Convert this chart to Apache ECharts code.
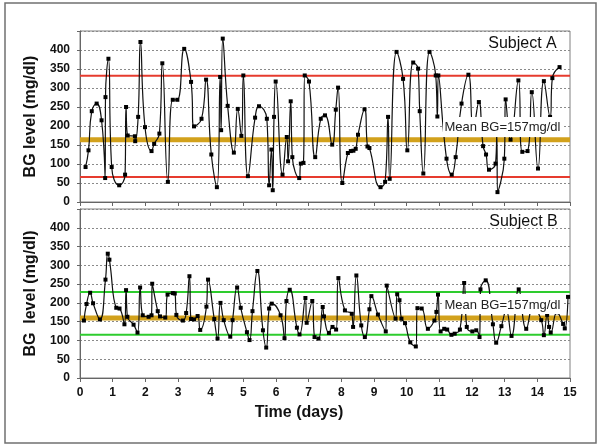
<!DOCTYPE html>
<html><head><meta charset="utf-8">
<script src="https://cdn.jsdelivr.net/npm/echarts@6/dist/echarts.min.js"></script>
<style>html,body{margin:0;padding:0;background:#fff}#c{width:601px;height:448px}</style>
</head><body><div id="c"></div>
<script>
// Subject A
const timeA = [
 0.17,0.26,0.36,0.51,0.66,0.77,0.78,0.87,0.97,1.20,
 1.38,1.41,1.46,1.68,1.69,1.78,1.85,1.99,2.19,2.27,
 2.43,2.52,2.69,2.84,2.98,3.19,3.40,3.49,3.72,3.86,
 4.02,4.19,4.29,4.32,4.37,4.52,4.71,4.83,4.94,5.00,
 5.14,5.36,5.48,5.72,5.79,5.86,5.90,5.94,5.99,6.20,
 6.33,6.37,6.45,6.50,6.71,6.76,6.84,6.88,7.01,7.20,
 7.37,7.50,7.72,7.83,7.90,8.03,8.20,8.29,8.37,8.44,
 8.51,8.71,8.80,8.86,9.20,9.34,9.43,9.48,9.69,9.89,
 10.02,10.20,10.35,10.40,10.51,10.70,10.89,10.94,10.97,11.22,
 11.38,11.50,11.68,11.89,12.04,12.21,12.34,12.43,12.52,12.72,
 12.76,12.78,12.99,13.03,13.18,13.42,13.54,13.70,13.83,14.02,
 14.20,14.39,14.46,14.68];
const bgA = [
 92,136,239,259,215,63,276,377,92,44,
 72,250,175,173,160,224,421,197,134,153,
 180,365,53,269,269,403,316,199,219,322,
 125,39,329,189,430,253,130,245,174,333,
 68,222,252,219,44,138,31,224,317,72,
 171,107,265,118,63,101,103,333,317,118,
 219,228,151,243,301,50,129,134,135,140,
 177,244,146,142,39,53,224,61,395,324,
 136,367,351,239,75,395,333,225,333,114,
 72,118,259,335,190,263,147,125,85,101,
 180,26,114,270,164,320,132,134,289,88,
 318,224,326,355];
// Subject B
const timeB = [
 0.12,0.20,0.31,0.40,0.61,0.78,0.85,0.90,1.11,1.21,
 1.36,1.41,1.45,1.64,1.76,1.84,1.92,2.10,2.19,2.21,
 2.38,2.45,2.61,2.68,2.84,2.90,2.95,3.15,3.25,3.35,
 3.40,3.49,3.60,3.68,3.87,3.92,4.11,4.21,4.30,4.40,
 4.60,4.67,4.81,4.92,5.11,5.19,5.28,5.43,5.60,5.70,
 5.79,5.87,6.14,6.26,6.32,6.42,6.64,6.72,6.90,6.94,
 7.11,7.18,7.30,7.43,7.47,7.62,7.73,7.84,7.91,8.11,
 8.32,8.36,8.46,8.61,8.72,8.86,8.92,9.12,9.36,9.39,
 9.66,9.71,9.78,9.84,9.95,10.11,10.28,10.33,10.46,10.65,
 10.85,10.91,10.96,11.04,11.15,11.24,11.37,11.47,11.63,11.76,
 11.84,12.01,12.13,12.23,12.26,12.42,12.64,12.74,12.90,13.05,
 13.21,13.43,13.66,13.88,14.12,14.20,14.30,14.36,14.41,14.60,
 14.79,14.84,14.94];
const bgB = [
 153,197,227,199,156,262,331,315,187,185,
 143,234,163,142,121,241,167,163,167,251,
 178,164,161,222,226,225,168,153,173,271,
 157,156,165,128,190,262,157,105,200,154,
 110,154,241,187,122,101,178,285,127,81,
 185,198,167,106,205,235,134,116,213,147,
 205,109,105,189,164,120,136,129,266,180,
 171,136,273,140,109,183,218,169,124,246,
 158,223,207,158,146,95,84,186,185,131,
 153,176,222,124,131,129,115,118,129,253,
 136,124,127,109,236,260,143,94,138,180,
 112,236,131,190,154,114,168,136,121,175,
 144,132,216];
const yTicks = [0,50,100,150,200,250,300,350,400];
const xTicks = [0,1,2,3,4,5,6,7,8,9,10,11,12,13,14,15];
const refA = {high: 332, mean: 164, low: 66};
const refB = {high: 229, mean: 160, low: 115};
const titleA = 'Subject A', titleB = 'Subject B';
const meanText = 'Mean BG=157mg/dl';
const yNameA = 'BG level (mg/dl)', yNameB = 'BG  level (mg/dl)';
const xName = 'Time (days)';

const FONT = "'Liberation Sans', Arial, sans-serif";
const pairs = (t, v) => t.map((x, i) => [x, v[i]]);
const hline = (v, xi, color, w) => ({
  type: 'line', xAxisIndex: xi, yAxisIndex: xi, data: [[xTicks[0], v], [xTicks[xTicks.length-1], v]],
  symbol: 'none', silent: true, z: 1, lineStyle: {color: color, width: w}, animation: false
});
const dataSeries = (t, v, i) => ({
  type: 'line', xAxisIndex: i, yAxisIndex: i, data: pairs(t, v), smooth: 0.5,
  symbol: 'rect', symbolSize: 4, showSymbol: true, z: 3, animation: false,
  itemStyle: {color: '#000'}, lineStyle: {color: '#111', width: 1.2}
});
const yAx = (i, name) => ({
  gridIndex: i, type: 'value', min: 0, max: 450, interval: 50,
  name: name, nameLocation: 'middle', nameGap: 39,
  nameTextStyle: {fontFamily: FONT, fontWeight: 'bold', fontSize: 16, color: '#111'},
  axisLine: {show: true, lineStyle: {color: '#666', width: 1}},
  axisTick: {show: true, length: 3, lineStyle: {color: '#666'}},
  axisLabel: {margin: 10, fontFamily: FONT, fontWeight: 'bold', fontSize: 12, color: '#111',
    formatter: v => yTicks.includes(v) ? String(v) : ''},
  splitLine: {show: true, lineStyle: {color: '#8a8a8a', type: [2, 2], width: 1}}
});
const xAx = (i, showLabel) => ({
  gridIndex: i, type: 'value', min: 0, max: 15, interval: 1,
  axisLine: {show: true, onZero: false, lineStyle: {color: '#666', width: 1}},
  axisTick: {show: true, length: 4, lineStyle: {color: '#666'}},
  axisLabel: {show: showLabel, margin: 9, fontFamily: FONT, fontWeight: 'bold', fontSize: 12, color: '#111'},
  splitLine: {show: false}
});

const chart = echarts.init(document.getElementById('c'), null, {renderer: 'canvas'});
chart.setOption({
  animation: false,
  backgroundColor: '#fff',
  grid: [
    {left: 80, top: 31, width: 490, height: 171, show: true, borderColor: '#808080', borderWidth: 1},
    {left: 80, top: 209, width: 490, height: 169, show: true, borderColor: '#808080', borderWidth: 1}
  ],
  xAxis: [xAx(0, false), xAx(1, true)],
  yAxis: [yAx(0, yNameA), yAx(1, yNameB)],
  series: [
    hline(refA.high, 0, '#E63B2E', 2),
    hline(refA.low, 0, '#E63B2E', 2),
    hline(refA.mean, 0, '#D2A11C', 5),
    hline(refB.high, 1, '#2ECC2E', 2),
    hline(refB.low, 1, '#2ECC2E', 2),
    hline(refB.mean, 1, '#D2A11C', 5),
    dataSeries(timeA, bgA, 0),
    dataSeries(timeB, bgB, 1)
  ],
  graphic: [
    {type: 'rect', z: 100, silent: true, shape: {x: 5, y: 3, width: 591, height: 440},
      style: {fill: 'none', stroke: '#707070', lineWidth: 1.5}},
    {type: 'rect', z: 100, silent: true, shape: {x: 443, y: 117, width: 119, height: 20}, style: {fill: '#fff'}},
    {type: 'rect', z: 100, silent: true, shape: {x: 443, y: 294, width: 119, height: 20}, style: {fill: '#fff'}},
    {type: 'text', z: 101, silent: true, x: 502.5, y: 127,
      style: {text: meanText, font: "13px " + FONT, fill: '#222', textAlign: 'center', textVerticalAlign: 'middle'}},
    {type: 'text', z: 101, silent: true, x: 502.5, y: 305,
      style: {text: meanText, font: "13px " + FONT, fill: '#222', textAlign: 'center', textVerticalAlign: 'middle'}},
    {type: 'text', z: 101, silent: true, x: 522.5, y: 44,
      style: {text: titleA, font: "16px " + FONT, fill: '#111', textAlign: 'center', textVerticalAlign: 'middle'}},
    {type: 'text', z: 101, silent: true, x: 523.5, y: 222,
      style: {text: titleB, font: "16px " + FONT, fill: '#111', textAlign: 'center', textVerticalAlign: 'middle'}},
    {type: 'text', z: 101, silent: true, x: 299, y: 413,
      style: {text: xName, font: "bold 16px " + FONT, fill: '#111', textAlign: 'center', textVerticalAlign: 'middle'}}
  ]
});
</script>
</body></html>
